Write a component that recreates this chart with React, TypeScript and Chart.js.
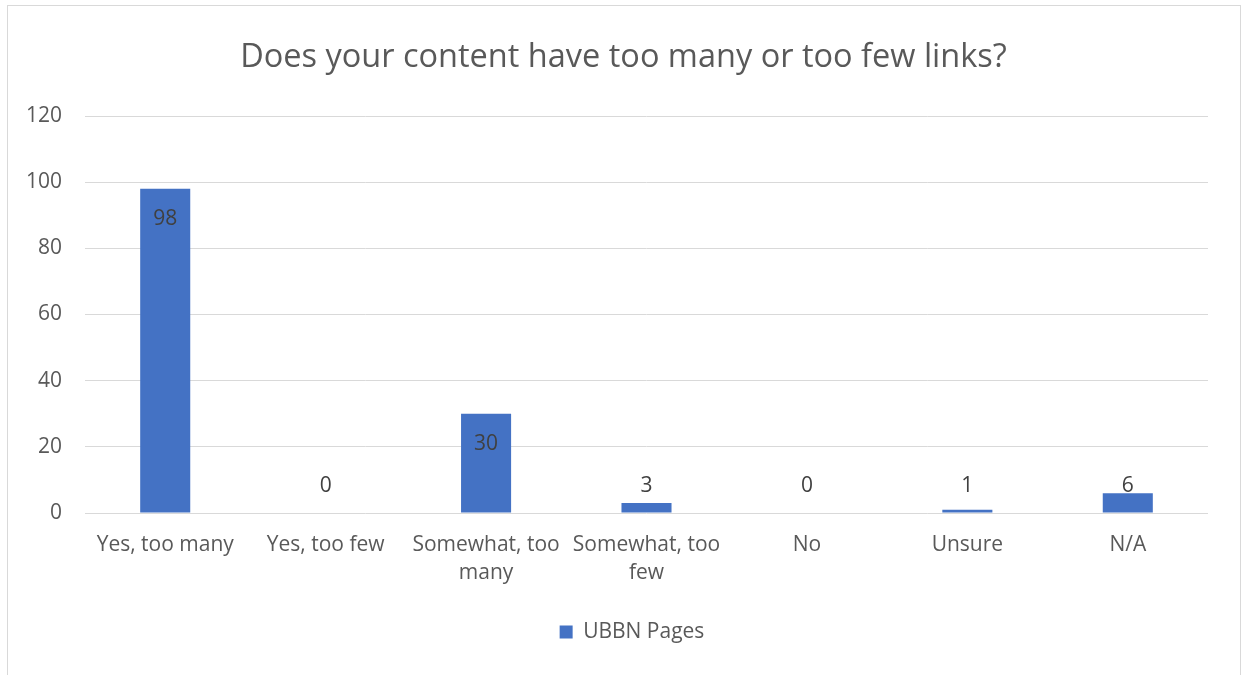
import React, { useEffect, useRef } from "react";
import { Chart, registerables } from "chart.js";

Chart.register(...registerables);

const TITLE = "Does your content have too many or too few links?";
const CATEGORIES: (string | string[])[] = [
  "Yes, too many",
  "Yes, too few",
  ["Somewhat, too", "many"],
  ["Somewhat, too", "few"],
  "No",
  "Unsure",
  "N/A",
];
const SERIES_NAME = "UBBN Pages";
const VALUES = [98, 0, 30, 3, 0, 1, 6];
const Y_MIN = 0;
const Y_MAX = 120;
const Y_STEP = 20;

const FONT = "'Open Sans', Lato, sans-serif";
const TEXT = "#595959";
const LABEL_TEXT = "#404040";
const BAR = "#4472C4";
const GRID = "#d9d9d9";
const LBL = 21;
const TITLE_SIZE = 32.5;

const dataLabelPlugin = {
  id: "excelDataLabels",
  afterDatasetsDraw(chart: any) {
    const { ctx } = chart;
    const meta = chart.getDatasetMeta(0);
    const yScale = chart.scales.y;
    const zeroY = yScale.getPixelForValue(0);
    ctx.save();
    ctx.font = `${LBL}px ${FONT}`;
    ctx.fillStyle = LABEL_TEXT;
    ctx.textAlign = "center";
    ctx.textBaseline = "middle";
    meta.data.forEach((bar: any, i: number) => {
      const y = Math.min(bar.y + 30, zeroY - 27);
      ctx.fillText(String(VALUES[i]), bar.x, y);
    });
    ctx.restore();
  },
};

// Excel centres the title and legend on the whole chart frame rather than the plot area
const centreShiftPlugin = {
  id: "centreShift",
  afterLayout(chart: any) {
    if (chart.legend) {
      chart.legend.left += 28;
      chart.legend.right += 28;
    }
    if (chart.titleBlock) {
      chart.titleBlock.left += 19.5;
      chart.titleBlock.right += 19.5;
    }
  },
};

export default function App() {
  const ref = useRef<HTMLCanvasElement | null>(null);
  useEffect(() => {
    if (!ref.current) return;
    const chart = new Chart(ref.current, {
      type: "bar",
      data: {
        labels: CATEGORIES,
        datasets: [
          {
            label: SERIES_NAME,
            data: VALUES,
            backgroundColor: BAR,
            borderWidth: 0,
            categoryPercentage: 1,
            barPercentage: 0.312,
          },
        ],
      },
      options: {
        animation: false,
        responsive: true,
        maintainAspectRatio: false,
        layout: { padding: { left: 0, right: 35, top: 0, bottom: 22.5 } },
        plugins: {
          title: {
            display: true,
            text: TITLE,
            color: TEXT,
            font: { family: FONT, size: TITLE_SIZE, weight: "normal", lineHeight: 1.2 },
            padding: { top: 38.5, bottom: 38.5 },
          },
          legend: {
            display: true,
            position: "bottom",
            labels: {
              color: TEXT,
              font: { family: FONT, size: LBL },
              boxWidth: 13,
              boxHeight: 13,
              padding: 10,
            },
          },
          tooltip: { enabled: false },
        },
        scales: {
          x: {
            grid: { display: false, drawTicks: false },
            border: { display: false },
            ticks: {
              color: TEXT,
              font: { family: FONT, size: LBL, lineHeight: 28 / LBL },
              padding: 18,
              maxRotation: 0,
              autoSkip: false,
            },
            afterFit(scale: any) {
              scale.height = 98.5;
            },
          },
          y: {
            min: Y_MIN,
            max: Y_MAX,
            grid: { color: GRID, lineWidth: 1, drawTicks: false },
            border: { display: false },
            ticks: {
              stepSize: Y_STEP,
              color: TEXT,
              font: { family: FONT, size: LBL },
              padding: 23,
            },
            afterFit(scale: any) {
              scale.width = 85;
            },
          },
        },
      },
      plugins: [dataLabelPlugin, centreShiftPlugin],
    });
    return () => chart.destroy();
  }, []);

  return (
    <div
      style={{
        position: "fixed",
        left: 0,
        top: 0,
        width: 1243,
        height: 675,
        background: "#fff",
        overflow: "hidden",
      }}
    >
      <div
        style={{
          position: "absolute",
          left: 7,
          top: 5,
          width: 1232,
          height: 700,
          border: `1px solid ${GRID}`,
        }}
      />
      <canvas ref={ref} style={{ position: "absolute", left: 0, top: 0, width: 1243, height: 675 }} />
    </div>
  );
}
